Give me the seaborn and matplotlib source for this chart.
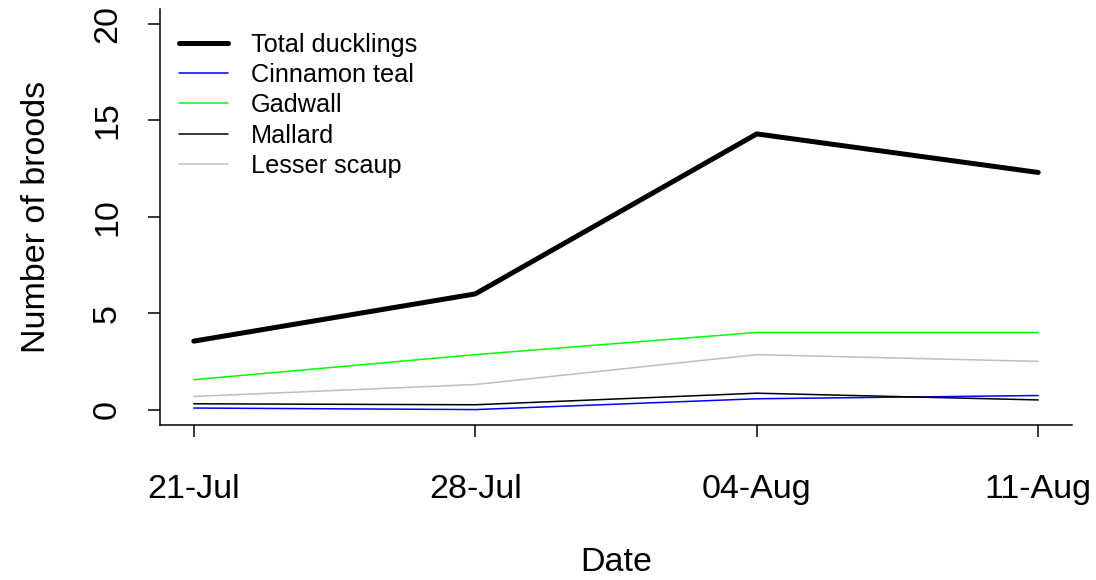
import matplotlib
matplotlib.use("Agg")
import matplotlib.pyplot as plt
import seaborn as sns
import pandas as pd

# Survey dates and mean broods per series
dates = ["21-Jul", "28-Jul", "04-Aug", "11-Aug"]
total_ducklings = [3.55, 6.0, 14.3, 12.3]
cinnamon_teal = [0.08, 0.0, 0.56, 0.73]
gadwall = [1.55, 2.85, 4.0, 4.0]
mallard = [0.3, 0.25, 0.85, 0.5]
lesser_scaup = [0.68, 1.3, 2.85, 2.5]

series = {
    "Total ducklings": total_ducklings,
    "Cinnamon teal": cinnamon_teal,
    "Gadwall": gadwall,
    "Mallard": mallard,
    "Lesser scaup": lesser_scaup,
}
colors = {
    "Total ducklings": "#000000",
    "Cinnamon teal": "#0000FF",
    "Gadwall": "#00FF00",
    "Mallard": "#000000",
    "Lesser scaup": "#BEBEBE",
}
widths = {
    "Total ducklings": 3.6,
    "Cinnamon teal": 1.1,
    "Gadwall": 1.1,
    "Mallard": 1.1,
    "Lesser scaup": 1.1,
}

rows = []
for name, vals in series.items():
    for i, (d, v) in enumerate(zip(dates, vals)):
        rows.append({"pos": i, "date": d, "broods": v, "series": name})
df = pd.DataFrame(rows)

sns.set_theme(style="white")
plt.rcParams["font.family"] = ["Liberation Sans", "DejaVu Sans"]
plt.rcParams["text.color"] = "black"
plt.rcParams["axes.labelcolor"] = "black"
plt.rcParams["xtick.color"] = "black"
plt.rcParams["ytick.color"] = "black"

fig = plt.figure(figsize=(10.96, 5.8), dpi=100)
ax = fig.add_axes([160 / 1096, 1 - 425 / 580, (1072 - 160) / 1096, (425 - 8.6) / 580])

for name in series:
    sub = df[df["series"] == name]
    sns.lineplot(data=sub, x="pos", y="broods", ax=ax, color=colors[name],
                 linewidth=widths[name], label=name, estimator=None,
                 solid_capstyle="round", solid_joinstyle="round")

ax.set_xlim(-0.12, 3.12)
ax.set_ylim(-0.8, 20.8)
ax.set_xticks(range(len(dates)))
ax.set_xticklabels(dates)
ax.set_yticks([0, 5, 10, 15, 20])
ax.set_yticklabels(["0", "5", "10", "15", "20"], rotation=90, va="center")

for s in ["top", "right"]:
    ax.spines[s].set_visible(False)
for s in ["left", "bottom"]:
    ax.spines[s].set_color("black")
    ax.spines[s].set_linewidth(1.1)

ax.tick_params(axis="both", which="both", direction="out", length=8.6, width=1.1,
               color="black", labelsize=24.5, left=True, bottom=True)
ax.tick_params(axis="x", pad=27)
ax.tick_params(axis="y", pad=18)
ax.set_xlabel("Date", fontsize=24.5, labelpad=30)
ax.set_ylabel("Number of broods", fontsize=24.5, labelpad=29)

leg = ax.legend(loc="upper left", bbox_to_anchor=(0.0, 0.988), frameon=False,
                fontsize=18.2, handlelength=1.95, handletextpad=0.9,
                labelspacing=0.25, borderaxespad=0.35)

fig.savefig("out.png", dpi=100)
